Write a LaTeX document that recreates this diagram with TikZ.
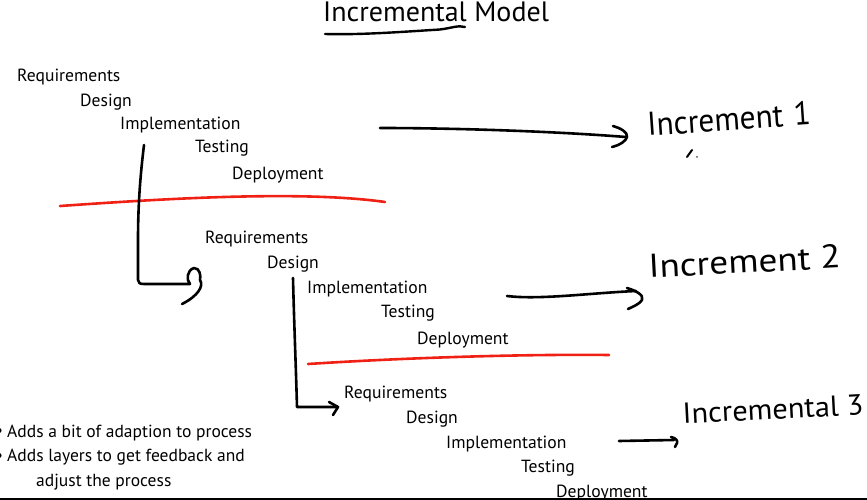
\documentclass[tikz,border=0pt]{standalone}
\usepackage{fontspec}
\setmainfont{PT Sans}
\newfontfamily\handfont{PT Sans}
\begin{document}
\begin{tikzpicture}[x=1pt,y=-1pt,
  steptext/.style={anchor=base west,inner sep=0pt,font=\fontsize{17.6}{20}\selectfont},
  bullettext/.style={anchor=base west,inner sep=0pt,font=\fontsize{17.5}{20}\selectfont},
  ink/.style={line width=2.6pt,line cap=round,line join=round,draw=black},
  redink/.style={line width=2.6pt,line cap=round,draw=redline},
  hand/.style={anchor=base west,inner sep=0pt,font=\handfont\fontsize{33}{36}\selectfont}]
\definecolor{redline}{RGB}{240,32,20}
\useasboundingbox (0,0) rectangle (867,500);
% title
\node[anchor=base west,inner sep=0pt,font=\fontsize{28}{30}\selectfont] (title) at (323,22) {Incremental Model};
\draw[ink,line width=2.4pt] (325,34) .. controls (360,35) and (400,32) .. (440,29.5) .. controls (452,28) and (458,25) .. (465,27);
% block 1
\node[steptext] (r1) at (17,82) {Requirements};
\node[steptext] (d1) at (80,106.5) {Design};
\node[steptext] (i1) at (120,129) {Implementation};
\node[steptext] (t1) at (195,153) {Testing};
\node[steptext] (p1) at (232,179) {Deployment};
% block 2
\node[steptext] (r2) at (205,243) {Requirements};
\node[steptext] (d2) at (267,268) {Design};
\node[steptext] (i2) at (307,293) {Implementation};
\node[steptext] (t2) at (381,317) {Testing};
\node[steptext] (p2) at (417,344) {Deployment};
% block 3
\node[steptext] (r3) at (344,398) {Requirements};
\node[steptext] (d3) at (406,423) {Design};
\node[steptext] (i3) at (446,448) {Implementation};
\node[steptext] (t3) at (521,472) {Testing};
\node[steptext] (p3) at (556,497) {Deployment};
% red separators
\draw[redink] (60,206) .. controls (160,199) and (300,190) .. (385,202);
\draw[redink] (308,364) .. controls (400,358) and (520,354) .. (609,355);
% black L-shaped flow lines
\coordinate (l1a) at (144,145);
\coordinate (l1b) at (190,284);
\draw[ink] (l1a) .. controls (141,170) and (138,200) .. (138,240) -- (138,280) .. controls (138,283) and (140,284) .. (144,284) -- (l1b)
  .. controls (186,280) and (187,270) .. (194,268) .. controls (200,268) and (201,276) .. (200,280)
  .. controls (204,286) and (198,296) .. (182,304);
\coordinate (l2a) at (293,278);
\coordinate (l2b) at (337,407);
\draw[ink] (l2a) .. controls (294,320) and (296,370) .. (297,407) -- (l2b);
\draw[ink] (329,402) -- (338,407) -- (333,415);
% arrows to increments
\coordinate (a1s) at (380,128);
\coordinate (a1e) at (626,137);
\draw[ink] (a1s) .. controls (450,128) and (550,131) .. (a1e);
\draw[ink] (613,126) .. controls (620,128) and (628,132) .. (627,137) .. controls (626,141) and (620,145) .. (612,147);
\coordinate (a2s) at (507,296);
\coordinate (a2e) at (636,291);
\draw[ink] (a2s) .. controls (540,300) and (590,293) .. (a2e);
\draw[ink] (627,288) .. controls (634,290) and (645,295) .. (642,300) .. controls (640,304) and (632,307) .. (628,309);
\coordinate (a3s) at (619,441);
\coordinate (a3e) at (674,440);
\draw[ink] (a3s) -- (a3e);
\draw[ink] (671,437) .. controls (676,438) and (678,441) .. (677,443) -- (675,447);
% increment labels
\node[hand,rotate=4,xscale=0.95] (inc1) at (648,136) {Increment\,\,1};
\node[hand,rotate=3,xscale=1.13] (inc2) at (649,278) {Increment 2};
\node[hand,rotate=3,font=\handfont\fontsize{29}{30}\selectfont,xscale=1.05] (inc3) at (683,424) {Incremental 3};
% pen cursor
\draw[line width=2pt,line cap=round] (687,157) -- (692,150);
\node[inner sep=0pt,font=\fontsize{7}{7}\selectfont] (cur) at (697,159) {*};
% bullets
\begin{scope}
\clip (0,0) rectangle (867,500);
\fill (-1,430.5) circle (2.6);
\fill (-1,455.5) circle (2.6);
\end{scope}
\node[bullettext] (b1) at (7,437) {Adds a bit of adaption to process};
\node[bullettext] (b2) at (7,461.5) {Adds layers to get feedback and};
\node[bullettext] (b3) at (36,486.5) {adjust the process};
% bottom edge
\fill (0,498) rectangle (867,500);
\end{tikzpicture}
\end{document}
